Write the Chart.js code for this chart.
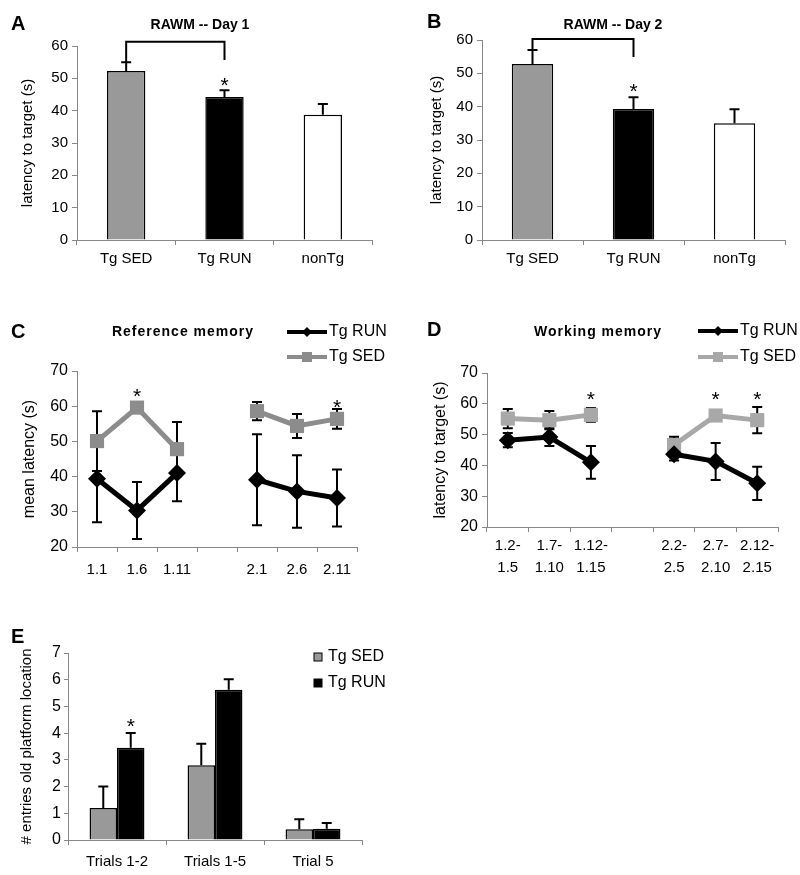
<!DOCTYPE html>
<html>
<head>
<meta charset="utf-8">
<script src="https://cdn.jsdelivr.net/npm/chart.js@4.4.1/dist/chart.umd.min.js"></script>
<style>
  body { margin: 0; background: #fff; }
  #page { position: relative; width: 800px; height: 875px; }
  #page canvas { position: absolute; }
</style>
</head>
<body>
<div id="page">
  <canvas id="panelA" width="400" height="285" style="left:0;top:0"></canvas>
  <canvas id="panelB" width="400" height="285" style="left:400px;top:0"></canvas>
  <canvas id="panelC" width="400" height="330" style="left:0;top:290px"></canvas>
  <canvas id="panelD" width="400" height="330" style="left:400px;top:290px"></canvas>
  <canvas id="panelE" width="400" height="255" style="left:0;top:620px"></canvas>
</div>
<script>
// --- data ---
const groups = ['Tg SED', 'Tg RUN', 'nonTg'];
const day1Latency = [52.3, 44.2, 38.7];
const day1Err = [2.7, 2.1, 3.4];
const day2Latency = [52.8, 39.3, 35.0];
const day2Err = [4.2, 3.5, 4.2];

const refTrials = ['1.1', '1.6', '1.11', '', '2.1', '2.6', '2.11'];
const refRun = [39.4, 30.4, 41.0, null, 39.1, 35.8, 33.9];
const refRunErr = [12.4, 8.1, 8.0, null, 12.9, 10.3, 8.1];
const refSed = [50.1, 59.6, 47.8, null, 58.6, 54.4, 56.4];
const refSedErr = [8.5, 1.0, 7.7, null, 2.6, 3.4, 2.8];

const workBlocks = [['1.2-', '1.5'], ['1.7-', '1.10'], ['1.12-', '1.15'], '', ['2.2-', '2.5'], ['2.7-', '2.10'], ['2.12-', '2.15']];
const workRun = [48.2, 49.2, 41.0, null, 43.6, 41.3, 34.2];
const workRunErr = [2.3, 2.9, 5.3, null, 2.0, 6.0, 5.4];
const workSed = [55.2, 54.7, 56.4, null, 46.6, 56.2, 54.7];
const workSedErr = [3.1, 3.0, 2.2, null, 2.7, 1.2, 4.3];

const probeTrials = ['Trials 1-2', 'Trials 1-5', 'Trial 5'];
const probeSed = [1.2, 2.8, 0.4];
const probeSedErr = [0.8, 0.8, 0.38];
const probeRun = [3.45, 5.62, 0.42];
const probeRunErr = [0.56, 0.4, 0.22];

const FONT = "'Liberation Sans', Arial, sans-serif";
Chart.defaults.font.family = FONT;
Chart.defaults.color = '#000';
Chart.defaults.animation = false;
Chart.defaults.plugins.legend.display = false;
Chart.defaults.plugins.tooltip.enabled = false;

const axisColor = '#888';

function yAxis(min, max, step, title, o) {
  return {
    min: min, max: max,
    ticks: { stepSize: step, padding: o.tickPad, font: { size: o.tickSize } },
    grid: { drawOnChartArea: false, tickLength: o.tickLen || 5, color: axisColor },
    border: { color: axisColor },
    title: { display: true, text: title, font: { size: o.titleSize }, padding: { top: o.titlePad, bottom: 0 } },
    afterFit: s => { s.width = o.width; }
  };
}

function xAxis(o) {
  return {
    offset: true,
    ticks: { padding: o.tickPad, font: { size: o.tickSize, lineHeight: 1.45 }, autoSkip: false, maxRotation: 0 },
    grid: { offset: true, drawOnChartArea: false, tickLength: 5, color: axisColor },
    border: { color: axisColor },
    afterFit: s => { s.height = o.height; }
  };
}

function text(ctx, str, x, y, font, align, spacing) {
  ctx.save();
  ctx.font = font;
  ctx.fillStyle = '#000';
  ctx.textAlign = align || 'center';
  ctx.textBaseline = 'middle';
  if (spacing) ctx.letterSpacing = spacing;
  ctx.fillText(str, x, y);
  ctx.restore();
}

// error bars sit under the marks; stars, brackets, titles and legends on top
const decor = {
  id: 'decor',
  beforeDatasetsDraw(chart, args, opts) {
    if (!opts.errorsBehind) return;
    drawErrors(chart, opts);
  },
  afterDatasetsDraw(chart, args, opts) {
    const ctx = chart.ctx;
    const xs = chart.scales.x, ys = chart.scales.y;
    if (!opts.errorsBehind) drawErrors(chart, opts);

    if (opts.bracket) {
      const b = opts.bracket;
      const x1 = xs.getPixelForValue(b.from), x2 = xs.getPixelForValue(b.to);
      ctx.save();
      ctx.strokeStyle = '#000';
      ctx.lineWidth = 2;
      ctx.beginPath();
      ctx.moveTo(x1, ys.getPixelForValue(b.leftEnd));
      ctx.lineTo(x1, ys.getPixelForValue(b.top));
      ctx.lineTo(x2, ys.getPixelForValue(b.top));
      ctx.lineTo(x2, ys.getPixelForValue(b.rightEnd));
      ctx.stroke();
      ctx.restore();
    }

    (opts.stars || []).forEach(s => {
      const x = s.dataset != null ? chart.getDatasetMeta(s.dataset).data[s.index].x : xs.getPixelForValue(s.index);
      text(ctx, '*', x, ys.getPixelForValue(s.level) + 6, '21px ' + FONT);
    });

    if (opts.letter) text(ctx, opts.letter.text, opts.letter.x, opts.letter.y, 'bold 20px ' + FONT, 'left');
    if (opts.title) text(ctx, opts.title.text, opts.title.x, opts.title.y, 'bold ' + opts.title.size + 'px ' + FONT, 'center', opts.title.spacing);

    if (opts.legend) {
      const L = opts.legend;
      chart.data.datasets.forEach((ds, di) => {
        const y = L.y + di * L.gap;
        ctx.save();
        if (L.kind === 'line') {
          ctx.strokeStyle = ds.borderColor;
          ctx.lineWidth = 4;
          ctx.beginPath();
          ctx.moveTo(L.x1, y); ctx.lineTo(L.x2, y);
          ctx.stroke();
          const mx = (L.x1 + L.x2) / 2;
          ctx.fillStyle = ds.borderColor;
          ctx.beginPath();
          if (ds.pointStyle === 'rectRot') {
            ctx.moveTo(mx, y - 5); ctx.lineTo(mx + 5, y); ctx.lineTo(mx, y + 5); ctx.lineTo(mx - 5, y);
          } else {
            ctx.rect(mx - 5, y - 5, 10, 10);
          }
          ctx.fill();
          text(ctx, ds.label, L.x2 + 2, y, '16px ' + FONT, 'left');
        } else {
          ctx.fillStyle = ds.backgroundColor;
          ctx.strokeStyle = '#000';
          ctx.lineWidth = 1;
          ctx.fillRect(L.x1, y - 4, 8, 8);
          ctx.strokeRect(L.x1, y - 4, 8, 8);
          text(ctx, ds.label, L.x1 + 14, y, '16px ' + FONT, 'left');
        }
        ctx.restore();
      });
    }
  }
};

function drawErrors(chart, opts) {
  const ctx = chart.ctx;
  const ys = chart.scales.y;
  const cap = opts.cap || 5;
  chart.data.datasets.forEach((ds, di) => {
    if (!ds.errors) return;
    const meta = chart.getDatasetMeta(di);
    meta.data.forEach((el, i) => {
      const v = ds.data[i], e = ds.errors[i];
      if (v == null || e == null) return;
      const top = ys.getPixelForValue(v + e);
      const bot = ds.errorBoth ? ys.getPixelForValue(v - e) : ys.getPixelForValue(v);
      ctx.save();
      ctx.strokeStyle = '#000';
      ctx.lineWidth = 2;
      ctx.beginPath();
      ctx.moveTo(el.x, top); ctx.lineTo(el.x, bot);
      ctx.moveTo(el.x - cap, top); ctx.lineTo(el.x + cap, top);
      if (ds.errorBoth) { ctx.moveTo(el.x - cap, bot); ctx.lineTo(el.x + cap, bot); }
      ctx.stroke();
      ctx.restore();
    });
  });
}

function rawmChart(id, values, errs, o) {
  return new Chart(document.getElementById(id), {
    type: 'bar',
    data: {
      labels: groups,
      datasets: [{
        data: values,
        errors: errs,
        backgroundColor: ['#999999', '#000000', '#ffffff'],
        borderColor: '#000',
        borderWidth: 1.5,
        barPercentage: 1,
        categoryPercentage: o.barFrac
      }]
    },
    options: {
      responsive: false,
      layout: { padding: { top: o.top, right: o.right, left: 0, bottom: 0 } },
      scales: {
        x: xAxis({ tickPad: 3, tickSize: 15, height: 45 }),
        y: yAxis(0, 60, 10, 'latency to target (s)', { tickPad: 4, tickSize: 15, titleSize: 15, titlePad: o.titlePad, width: o.yWidth })
      },
      plugins: { decor: o.decor }
    },
    plugins: [decor]
  });
}

rawmChart('panelA', day1Latency, day1Err, {
  barFrac: 0.39, top: 46, right: 28, yWidth: 77, titlePad: 19,
  decor: {
    letter: { text: 'A', x: 11, y: 24 },
    title: { text: 'RAWM -- Day 1', x: 200, y: 25, size: 14 },
    bracket: { from: 0, to: 1, top: 61.3, leftEnd: 55.0, rightEnd: 55.7 },
    stars: [{ index: 1, level: 49.5 }]
  }
});

rawmChart('panelB', day2Latency, day2Err, {
  barFrac: 0.41, top: 40, right: 15, yWidth: 82, titlePad: 28,
  decor: {
    letter: { text: 'B', x: 27, y: 22 },
    title: { text: 'RAWM -- Day 2', x: 213, y: 25, size: 14 },
    bracket: { from: 0, to: 1, top: 60.3, leftEnd: 57.0, rightEnd: 54.9 },
    stars: [{ index: 1, level: 46.2 }]
  }
});

function memoryChart(id, labels, run, runErr, sed, sedErr, o) {
  return new Chart(document.getElementById(id), {
    type: 'line',
    data: {
      labels: labels,
      datasets: [{
        label: 'Tg RUN',
        data: run,
        errors: runErr,
        errorBoth: true,
        borderColor: '#000',
        backgroundColor: '#000',
        borderWidth: 5,
        pointStyle: 'rectRot',
        pointRadius: 9,
        pointBorderWidth: 0
      }, {
        label: 'Tg SED',
        data: sed,
        errors: sedErr,
        errorBoth: true,
        borderColor: o.sedColor,
        backgroundColor: o.sedColor,
        borderWidth: 5,
        pointStyle: 'rect',
        pointRadius: 10,
        pointBorderWidth: 0
      }]
    },
    options: {
      responsive: false,
      layout: { padding: { top: o.top, right: o.right, left: 0, bottom: 0 } },
      scales: {
        x: xAxis({ tickPad: o.xPad, tickSize: 15, height: o.xHeight }),
        y: yAxis(20, 70, 10, o.yTitle, { tickPad: 4, tickSize: 16, titleSize: 16, titlePad: o.titlePad, width: o.yWidth })
      },
      plugins: { decor: o.decor }
    },
    plugins: [decor]
  });
}

memoryChart('panelC', refTrials, refRun, refRunErr, refSed, refSedErr, {
  sedColor: '#8c8c8c', top: 81, right: 43, yWidth: 77, xHeight: 73, xPad: 7,
  yTitle: 'mean latency (s)', titlePad: 20,
  decor: {
    cap: 5,
    errorsBehind: true,
    letter: { text: 'C', x: 11, y: 42 },
    title: { text: 'Reference memory', x: 183, y: 42, size: 14, spacing: '1px' },
    legend: { kind: 'line', x1: 287, x2: 327, y: 42, gap: 25 },
    stars: [{ index: 1, level: 64.2 }, { index: 6, level: 61.1 }]
  }
});

memoryChart('panelD', workBlocks, workRun, workRunErr, workSed, workSedErr, {
  sedColor: '#a8a8a8', top: 83, right: 22, yWidth: 87, xHeight: 93, xPad: 3,
  yTitle: 'latency to target (s)', titlePad: 31,
  decor: {
    cap: 5,
    errorsBehind: true,
    letter: { text: 'D', x: 27, y: 40 },
    title: { text: 'Working memory', x: 198, y: 42, size: 14, spacing: '1px' },
    legend: { kind: 'line', x1: 298, x2: 338, y: 41, gap: 26 },
    stars: [{ index: 2, level: 63.1 }, { index: 5, level: 63.1 }, { index: 6, level: 63.1 }]
  }
});

new Chart(document.getElementById('panelE'), {
  type: 'bar',
  data: {
    labels: probeTrials,
    datasets: [{
      label: 'Tg SED',
      data: probeSed,
      errors: probeSedErr,
      backgroundColor: '#999999',
      borderColor: '#000',
      borderWidth: 1.5,
      barPercentage: 1,
      categoryPercentage: 0.56
    }, {
      label: 'Tg RUN',
      data: probeRun,
      errors: probeRunErr,
      backgroundColor: '#000000',
      borderColor: '#000',
      borderWidth: 1.5,
      barPercentage: 1,
      categoryPercentage: 0.56
    }]
  },
  options: {
    responsive: false,
    layout: { padding: { top: 33, right: 38, left: 0, bottom: 0 } },
    scales: {
      x: xAxis({ tickPad: 6, tickSize: 15, height: 35 }),
      y: yAxis(0, 7, 1, '# entries old platform location', { tickPad: 3, tickSize: 16, titleSize: 15, titlePad: 18, width: 68, tickLen: 4 })
    },
    plugins: {
      decor: {
        cap: 5,
        letter: { text: 'E', x: 11, y: 17 },
        legend: { kind: 'box', x1: 314, y: 37, gap: 26 },
        stars: [{ dataset: 1, index: 0, level: 4.45 }]
      }
    }
  },
  plugins: [decor]
});
</script>
</body>
</html>
